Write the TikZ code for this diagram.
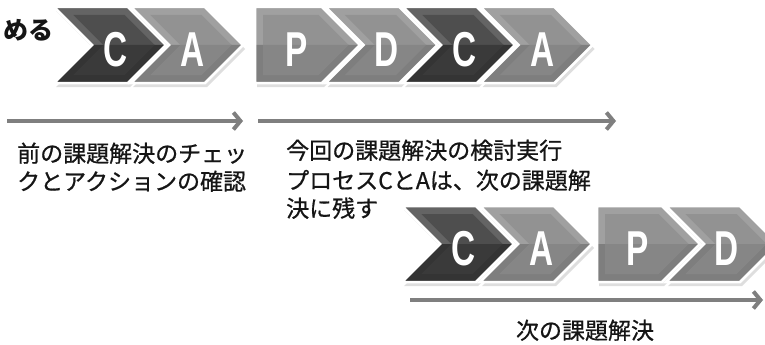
\documentclass[tikz,border=0pt]{standalone}
\usepackage{fontspec}
\usetikzlibrary{arrows.meta}
\newfontfamily\jp{Noto Sans CJK JP}[FakeBold=0.7]
\newfontfamily\jpb{Noto Sans CJK JP}
\newfontfamily\ltrfont{Liberation Sans}[BoldFont={Liberation Sans Bold}]
\definecolor{grimtop}{HTML}{A0A0A0}
\definecolor{grimbot}{HTML}{7E7E7E}
\definecolor{gfaceup}{HTML}{929292}
\definecolor{gfacelo}{HTML}{868686}
\definecolor{krimtop}{HTML}{646464}
\definecolor{krimbot}{HTML}{343434}
\definecolor{kfaceup}{HTML}{4E4E4E}
\definecolor{kfacelo}{HTML}{3A3A3A}
\definecolor{arrowgray}{HTML}{7F7F7F}
\definecolor{txt}{HTML}{151515}
\tikzset{
  ltr/.style={text=white,inner sep=0pt,anchor=base,font=\ltrfont\bfseries\fontsize{49}{49}\selectfont},
  arw/.style={draw=arrowgray,line width=4pt,-{Straight Barb[length=7pt,width=17pt]}},
  jtxt/.style={text=txt,inner sep=0pt,anchor=base west,font=\jp\fontsize{23}{23}\selectfont},
}
\newcommand\squeeze[1]{\scalebox{0.68}[1]{#1}}
% #1 name, #2 tip x, #3 centre y, #4 left x, #5 notched (1/0), #6 scheme (g/k), #7 letter, #8 letter x offset from tip
\newcommand\chev[8]{%
  \pgfmathsetmacro\cTx{#2}\pgfmathsetmacro\cCy{#3}\pgfmathsetmacro\cLx{#4}%
  \pgfmathsetmacro\cYt{\cCy-38}\pgfmathsetmacro\cYb{\cCy+38}%
  \pgfmathsetmacro\cXr{\cTx-38}%
  \ifnum#5=1
    \pgfmathsetmacro\cXn{\cLx+38}\pgfmathsetmacro\cIxl{\cLx+19.3}\pgfmathsetmacro\cIxn{\cLx+49.3}%
  \else
    \pgfmathsetmacro\cXn{\cLx}\pgfmathsetmacro\cIxl{\cLx+8}\pgfmathsetmacro\cIxn{\cLx+8}%
  \fi
  \pgfmathsetmacro\cIyt{\cYt+8}\pgfmathsetmacro\cIyb{\cYb-8}%
  \pgfmathsetmacro\cIxr{\cTx-41.3}\pgfmathsetmacro\cIxt{\cTx-11.3}%
  \fill[black,opacity=.13] (\cLx+2,\cYt+4) -- (\cXr+2,\cYt+4) -- (\cTx+2,\cCy+4) -- (\cXr+2,\cYb+4) -- (\cLx+2,\cYb+4) -- (\cXn+2,\cCy+4) -- cycle;
  \fill[#6rimtop] (\cLx,\cYt) -- (\cXr,\cYt) -- (\cTx,\cCy) -- (\cXn,\cCy) -- cycle;
  \fill[#6rimbot] (\cXn,\cCy) -- (\cTx,\cCy) -- (\cXr,\cYb) -- (\cLx,\cYb) -- cycle;
  \fill[#6faceup] (\cIxl,\cIyt) -- (\cIxr,\cIyt) -- (\cIxt,\cCy) -- (\cIxn,\cCy) -- cycle;
  \fill[#6facelo] (\cIxn,\cCy) -- (\cIxt,\cCy) -- (\cIxr,\cIyb) -- (\cIxl,\cIyb) -- cycle;
  \draw[white,line width=2.5pt,line join=miter] (\cLx,\cYt) -- (\cXr,\cYt) -- (\cTx,\cCy) -- (\cXr,\cYb) -- (\cLx,\cYb) -- (\cXn,\cCy) -- cycle;
  \node[ltr] (#1) at (\cTx-#8,\cCy+21.5) {\squeeze{#7}};
}
\begin{document}
\begin{tikzpicture}[x=1pt,y=-1pt]
\fill[white] (0,0) rectangle (765,345);
\useasboundingbox (0,0) rectangle (765,345);
% top row, first group
\chev{c1}{166}{45}{54}{1}{k}{C}{50}
\chev{a1}{243}{45}{131}{1}{g}{A}{50}
% top row, second group
\chev{p2}{360}{45}{255}{0}{g}{P}{63}
\chev{d2}{437.5}{45}{325.5}{1}{g}{D}{51}
\chev{c2}{515}{45}{403}{1}{k}{C}{50}
\chev{a2}{592.5}{45}{480.5}{1}{g}{A}{50}
% bottom row
\chev{c3}{514}{244}{402}{1}{k}{C}{50}
\chev{a3}{592}{244}{480}{1}{g}{A}{50}
\chev{p3}{700}{244}{597}{0}{g}{P}{62}
\chev{d3}{778}{244}{666}{1}{g}{D}{51}
% text top-left
\node[text=txt,inner sep=0pt,anchor=base east,font=\jpb\bfseries\fontsize{25}{25}\selectfont] (meru) at (54,40) {める};
% arrows
\coordinate (a1s) at (7,121);
\coordinate (a1e) at (243,121);
\coordinate (a2s) at (258,121);
\coordinate (a2e) at (616,121);
\coordinate (a3s) at (410,300);
\coordinate (a3e) at (763,300);
\draw[arw] (a1s) -- (a1e);
\draw[arw] (a2s) -- (a2e);
\draw[arw] (a3s) -- (a3e);
% texts
\node[jtxt] (t1a) at (17,162) {前の課題解決のチェッ};
\node[jtxt] (t1b) at (17,190) {クとアクションの確認};
\node[jtxt] (t2a) at (286,159) {今回の課題解決の検討実行};
\node[jtxt] (t2b) at (286,189) {プロセスCとAは、次の課題解};
\node[jtxt] (t2c) at (286,217) {決に残す};
\node[jtxt,anchor=base] (t3) at (585,339) {次の課題解決};
\end{tikzpicture}
\end{document}
